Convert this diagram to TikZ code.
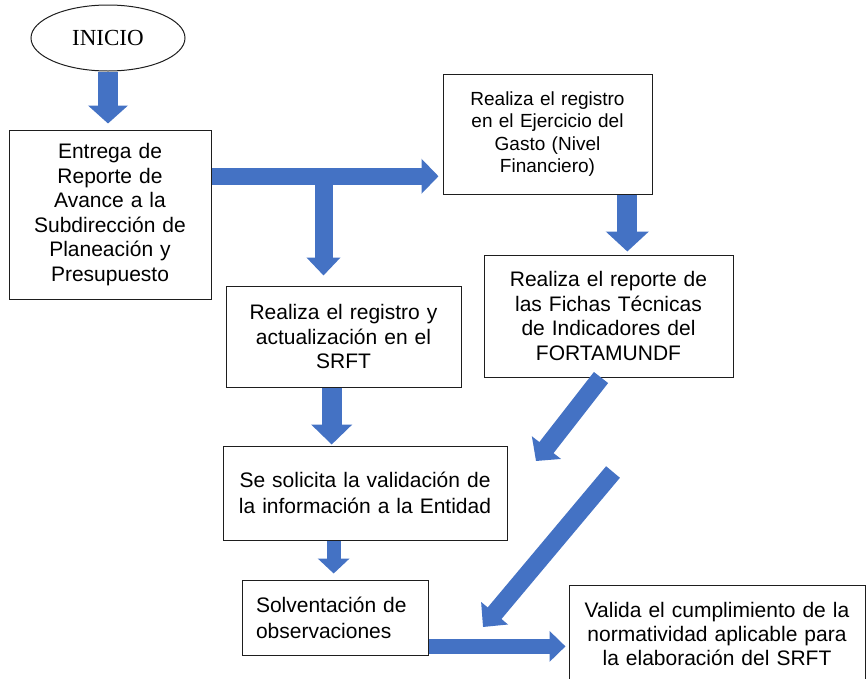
\documentclass[tikz,border=0pt]{standalone}
\usepackage{fontspec}
\setmainfont{Liberation Sans}
\newfontfamily\romanfont{Liberation Serif}
\usetikzlibrary{arrows.meta,calc,positioning,shapes.geometric}
\definecolor{OfficeBlue}{RGB}{68,114,196}
\definecolor{BoxLine}{RGB}{30,30,30}

\begin{document}
\begin{tikzpicture}[x=1pt,y=-1pt,
  caja/.style={draw=BoxLine,line width=1pt,align=center,inner xsep=4pt,inner ysep=2pt,font=\fontsize{21}{24.5}\selectfont},
  flecha/.style n args={3}{draw=OfficeBlue,line width=#1,-{Triangle[width=#2,length=#3]}}]
\useasboundingbox (0,0) rectangle (866,678);
% nodos
\node[ellipse,draw=BoxLine,line width=1pt,minimum width=154,minimum height=66,font=\romanfont\fontsize{23}{26}\selectfont] (inicio) at (108,38) {INICIO};
\node[caja,text width=194,minimum height=169] (entrega) at (110,214.5) {Entrega de\\Reporte de\\Avance a la\\Subdirección de\\Planeación y\\Presupuesto};
\node[caja,text width=201,minimum height=120,font=\fontsize{19}{22.3}\selectfont] (ejercicio) at (547.5,134) {Realiza el registro\\en el Ejercicio del\\Gasto (Nivel\\Financiero)};
\node[caja,text width=241,minimum height=122] (fichas) at (608.5,316) {Realiza el reporte de\\las Fichas Técnicas\\de Indicadores del\\FORTAMUNDF};
\node[caja,text width=227,minimum height=101] (srft) at (343.5,336.5) {Realiza el registro y\\actualización en el\\SRFT};
\node[caja,text width=276,minimum height=94,font=\fontsize{21}{26}\selectfont] (validacion) at (365,493) {Se solicita la validación de\\la información a la Entidad};
\node[caja,align=left,text width=158,inner xsep=14pt,minimum height=75,font=\fontsize{21}{26}\selectfont] (solventacion) at (335,617.5) {Solventación de\\observaciones};
\node[caja,text width=288,minimum height=97,font=\fontsize{21}{24}\selectfont] (valida) at (717,633.5) {Valida el cumplimiento de la\\normatividad aplicable para\\la elaboración del SRFT};
% puntos de salida
\coordinate (rama) at ($(entrega.north east)!.275!(entrega.south east)$);
\coordinate (bajada) at ($(rama)+(112,0)$);
\coordinate (salida) at ($(ejercicio.south west)!.88!(ejercicio.south east)$);
\coordinate (baja srft) at ($(srft.south west)!.45!(srft.south east)$);
\coordinate (baja val) at ($(validacion.south west)!.39!(validacion.south east)$);
\coordinate (baja fichas) at ($(fichas.south west)!.47!(fichas.south east)$);
\coordinate (hueco) at (536,461);
\coordinate (diag a) at (613,472);
\coordinate (diag b) at (483,627);
\coordinate (lado) at ($(solventacion.north east)!.88!(solventacion.south east)$);
% flechas
\draw[flecha={20pt}{39pt}{18pt},shorten >=6pt] (inicio.south) -- (inicio.south |- entrega.north);
\draw[flecha={17pt}{34pt}{17pt},shorten >=4pt] (rama) -- (rama -| ejercicio.west);
\draw[flecha={18pt}{33pt}{18pt},shorten >=10pt] (bajada) -- (bajada |- srft.north);
\draw[flecha={20pt}{42pt}{20pt},shorten >=3pt] (salida) -- (salida |- fichas.north);
\draw[flecha={20pt}{40pt}{20pt},shorten >=1pt] (baja srft) -- (baja srft |- validacion.north);
\draw[flecha={14pt}{31pt}{15pt},shorten >=6pt] (baja val) -- (baja val |- solventacion.north);
\draw[flecha={18pt}{36pt}{17pt}] (baja fichas) -- (hueco);
\draw[flecha={18pt}{34pt}{18pt}] (diag a) -- (diag b);
\draw[flecha={15pt}{30pt}{16pt},shorten >=3pt] (lado) -- (lado -| valida.west);
\end{tikzpicture}
\end{document}
